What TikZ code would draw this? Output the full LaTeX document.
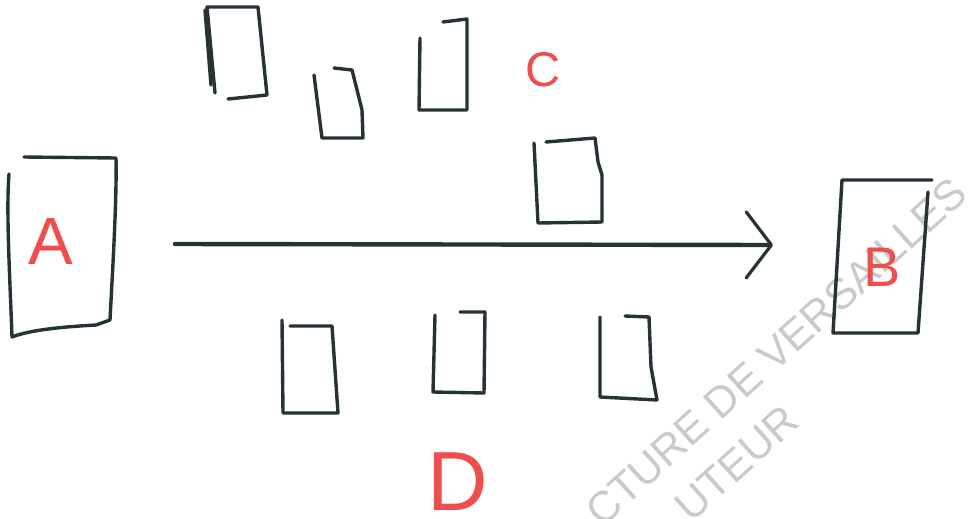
\documentclass[tikz,border=0pt]{standalone}
\usepackage{fontspec}
\setmainfont{Liberation Sans}
\usetikzlibrary{arrows.meta}
\definecolor{ink}{RGB}{38,52,48}
\definecolor{penred}{RGB}{238,78,78}
\definecolor{stampgray}{RGB}{202,202,202}

\begin{document}
\begin{tikzpicture}[x=0.25mm, y=-0.25mm,
        sketch/.style={draw=ink, line width=0.85mm, line cap=round, line join=round},
        letter/.style={text=penred, inner sep=0pt},
        stamptext/.style={text=stampgray, inner sep=0pt, rotate=42, font=\fontsize{30.6}{36}\selectfont},
        flow/.style={draw=ink, line width=1.1mm, line cap=round, -{Straight Barb[length=6.3mm, width=16.5mm, line width=0.8mm, round]}}
    ]
        \useasboundingbox (0,0) rectangle (969,518);
        \clip (0,0) rectangle (969,518);

        % watermark
        \node[stamptext] (wm1) at (776,352) {CTURE DE VERSAILLES};
        \node[stamptext] (wm2) at (737,463) {UTEUR};

        % A and B
        \draw[sketch] (24,157) -- (116,158) .. controls (117,200) and (112,280) .. (110,320) -- (96,325) .. controls (60,327) and (30,330) .. (12,337) .. controls (10,280) and (6,210) .. (9,174);
        \draw[sketch] (932,180) -- (842,180) -- (833,333) -- (918,333) -- (928,192);
        \node[letter, font=\fontsize{47.6}{50}\selectfont] (A) at (51,241) {A};
        \node[letter, font=\fontsize{39.8}{42}\selectfont] (B) at (882,267) {B};

        % upper group
        \draw[sketch] (228,99) -- (267,95) -- (258,7) -- (207,7) -- (215,93);
        \draw[sketch] (205,10) -- (211,85);
        \draw[sketch] (334,68) -- (352,70) -- (362,110) -- (363,138) -- (322,138) -- (314,75);
        \draw[sketch] (443,22) -- (467,19) -- (467,110) -- (419,110) -- (420,38);
        \draw[sketch] (546,142) -- (595,138) -- (598,162) -- (602,175) -- (602,222) -- (538,223) -- (534,143);
        \node[letter, font=\fontsize{34.7}{38}\selectfont] (C) at (543,70) {C};

        % lower group
        \draw[sketch] (290,326) -- (332,326) -- (338,413) -- (283,413) -- (282,320);
        \draw[sketch] (460,312) -- (485,312) -- (484,393) -- (433,392) -- (435,315);
        \draw[sketch] (625,316) -- (649,317) -- (651,367) -- (657,400) -- (600,397) -- (600,317);
        \node[letter, font=\fontsize{59.7}{62}\selectfont] (D) at (458,482) {D};

        % main arrow
        \coordinate (tail) at (175,244);
        \coordinate (tip) at (773,245);
        \draw[flow] (tail) -- (tip);
    \end{tikzpicture}
\end{document}
